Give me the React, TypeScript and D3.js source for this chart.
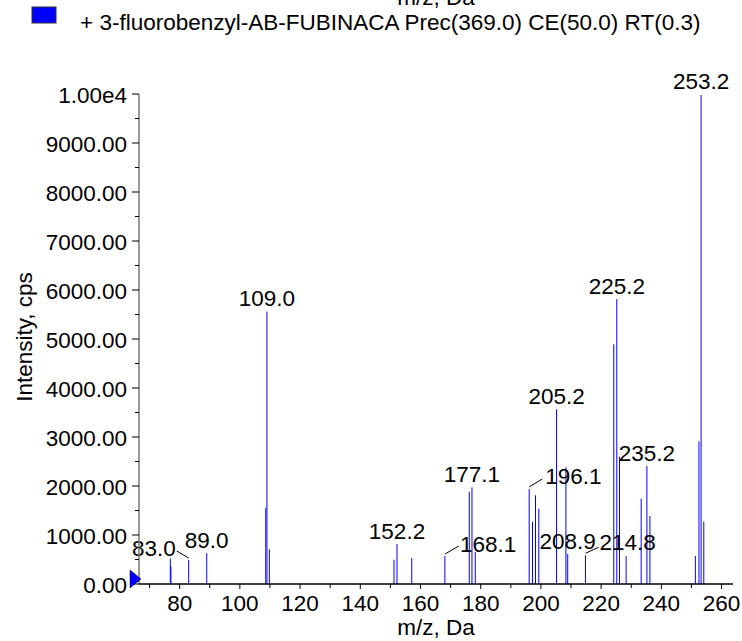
import * as d3 from "d3";

// spectrum peaks (m/z and intensity in cps)
const peakMz = [76.9, 77.1, 83.0, 89.0, 108.6, 109.0, 109.8, 151.2, 152.2, 157.1, 168.1, 176.2, 177.1, 178.2, 196.1, 197.2, 198.2, 199.3, 205.2, 208.3, 208.9, 214.8, 224.2, 225.2, 226.1, 228.3, 233.3, 235.2, 236.2, 251.3, 252.5, 253.2, 254.1];
const peakIntensity = [520, 360, 490, 630, 1550, 5560, 710, 496, 816, 530, 571, 1884, 1973, 650, 1939, 1272, 1810, 1537, 3565, 2381, 612, 585, 4891, 5816, 2600, 571, 1741, 2408, 1388, 571, 2912, 9980, 1272];

// peaks that carry an m/z annotation
const labelledMz = [83.0, 89.0, 109.0, 152.2, 168.1, 177.1, 196.1, 205.2, 208.9, 214.8, 225.2, 235.2, 253.2];

const yTicks = [0, 1000, 2000, 3000, 4000, 5000, 6000, 7000, 8000, 9000, 10000];
const yTickLabels = ["0.00", "1000.00", "2000.00", "3000.00", "4000.00", "5000.00", "6000.00", "7000.00", "8000.00", "9000.00", "1.00e4"];
const xTicks = [80, 100, 120, 140, 160, 180, 200, 220, 240, 260];

const legendText = "+ 3-fluorobenzyl-AB-FUBINACA Prec(369.0) CE(50.0) RT(0.3)";
const xTitle = "m/z, Da";
const yTitle = "Intensity, cps";

// labels that are pushed aside and joined to their peak by a short leader
const leaderLayout: Record<string, { anchor: string; dx: number; dy: number; lx: number; ly: number }> = {
  "83.0": { anchor: "end", dx: -13, dy: -4, lx: -12, ly: -9 },
  "168.1": { anchor: "start", dx: 15, dy: -4, lx: 14, ly: -10 },
  "196.1": { anchor: "start", dx: 16, dy: -5, lx: 13, ly: -10 },
  "214.8": { anchor: "start", dx: 14, dy: -5, lx: 13, ly: -8 },
};

const font = "'Liberation Sans', Arial, sans-serif";
const fs = 22.5;

const App = () => {
  const margin = { left: 139, right: 733, top: 94, bottom: 584 };

  const x = d3.scaleLinear().domain([66.5, 263.8]).range([margin.left, margin.right]);
  const y = d3.scaleLinear().domain([0, 10000]).range([margin.bottom, margin.top]);

  const minorX = d3.range(70, 264, 20);
  const minorY = d3.range(500, 10000, 1000);

  const peaks = peakMz.map((m, i) => ({ mz: m, v: peakIntensity[i] }));

  return (
    <svg width={742} height={641} style={{ position: "absolute", left: 0, top: 0 }} fontFamily={font}>
      {/* legend + clipped top title */}
      <text x={436} y={5} fontSize={fs} textAnchor="middle">{xTitle}</text>
      <rect x={32} y={7} width={24} height={16} fill="#0000ff" stroke="#333" strokeWidth={1} />
      <text x={80} y={29.5} fontSize={fs}>{legendText}</text>

      {/* peaks */}
      {peaks.map((p, i) => (
        <line key={i} x1={x(p.mz)} x2={x(p.mz)} y1={y(0)} y2={y(p.v)} stroke="#0000ff" strokeWidth={1} />
      ))}

      {/* peak labels */}
      {labelledMz.map((m) => {
        const p = peaks.find((d) => d.mz === m)!;
        const px = x(p.mz), py = y(p.v);
        const key = m.toFixed(1);
        const lay = leaderLayout[key];
        if (lay) {
          return (
            <g key={key}>
              <line x1={px} y1={py - 2} x2={px + lay.lx} y2={py + lay.ly} stroke="#000" strokeWidth={1} />
              <text x={px + lay.dx} y={py + lay.dy} fontSize={fs} textAnchor={lay.anchor}>{key}</text>
            </g>
          );
        }
        return (
          <text key={key} x={px} y={py - 5.5} fontSize={fs} textAnchor="middle">{key}</text>
        );
      })}

      {/* y axis */}
      <line x1={margin.left} x2={margin.left} y1={margin.top} y2={margin.bottom} stroke="#777" strokeWidth={1.5} />
      {yTicks.map((t, i) => (
        <g key={t}>
          <line x1={margin.left - 7} x2={margin.left} y1={y(t)} y2={y(t)} stroke="#000" />
          <text x={127} y={y(t) + 9} fontSize={fs} textAnchor="end">{yTickLabels[i]}</text>
        </g>
      ))}
      {minorY.map((t) => (
        <line key={t} x1={margin.left - 4} x2={margin.left} y1={y(t)} y2={y(t)} stroke="#000" />
      ))}
      <text transform={`translate(32,${(margin.top + margin.bottom) / 2 - 2}) rotate(-90)`} fontSize={fs} textAnchor="middle">{yTitle}</text>

      {/* x axis */}
      <line x1={margin.left} x2={margin.right} y1={margin.bottom} y2={margin.bottom} stroke="#000" strokeWidth={1.5} />
      {xTicks.map((t) => (
        <g key={t}>
          <line x1={x(t)} x2={x(t)} y1={margin.bottom} y2={margin.bottom + 5} stroke="#000" />
          <text x={x(t)} y={611} fontSize={fs} textAnchor="middle">{t}</text>
        </g>
      ))}
      {minorX.map((t) => (
        <line key={t} x1={x(t)} x2={x(t)} y1={margin.bottom} y2={margin.bottom + 4} stroke="#000" />
      ))}
      <text x={(margin.left + margin.right) / 2} y={635} fontSize={fs} textAnchor="middle">{xTitle}</text>

      {/* zero marker */}
      <path d={`M130,570 L141,579 L130,588 Z`} fill="#0000ff" stroke="#000" strokeWidth={0.5} />
    </svg>
  );
};

export default App;
